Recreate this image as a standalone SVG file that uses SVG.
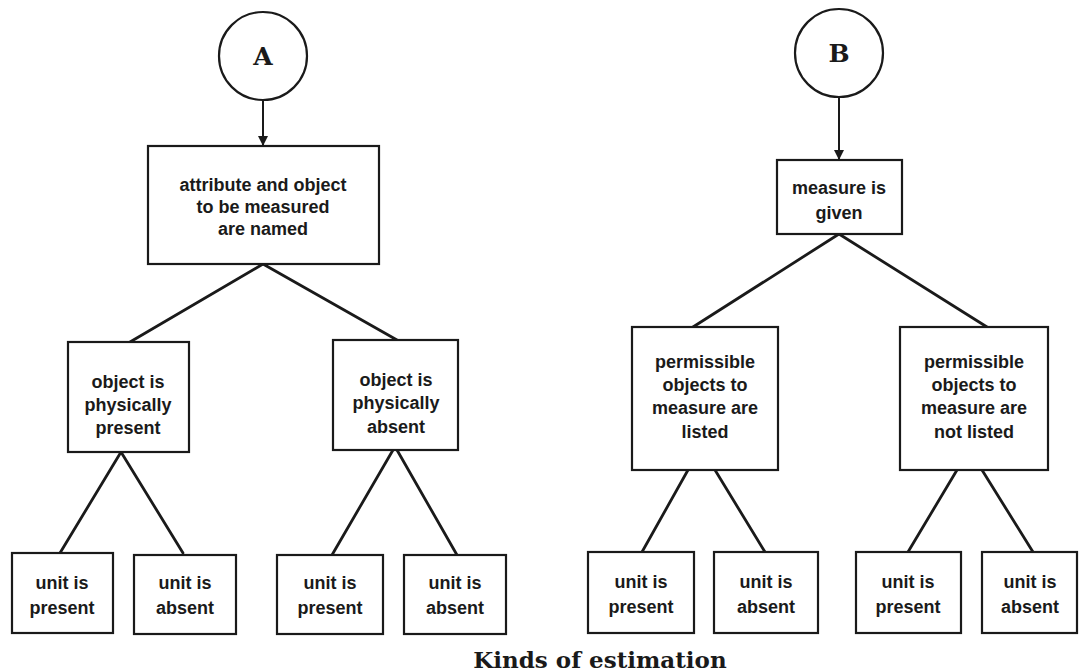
<svg xmlns="http://www.w3.org/2000/svg" width="1079" height="672" viewBox="0 0 1079 672">
<style>
  .box{fill:#fff;stroke:#1a1a1a;stroke-width:2.2}
  .circ{fill:#fff;stroke:#1a1a1a;stroke-width:2.2}
  .t{font-family:"Liberation Sans",Arial,sans-serif;font-weight:bold;font-size:18px;fill:#1a1a1a;text-anchor:middle}
  .L{font-family:"DejaVu Serif","Liberation Serif",serif;font-weight:bold;font-size:25px;fill:#1a1a1a;text-anchor:middle}
  .cap{font-family:"DejaVu Serif","Liberation Serif",serif;font-weight:bold;font-size:23px;fill:#1a1a1a;text-anchor:middle}
  .ln{stroke:#1a1a1a;stroke-width:2.8;fill:none;stroke-linecap:round}
  .ar{stroke:#1a1a1a;stroke-width:2;fill:none}
</style>
<defs>
  <marker id="ah" viewBox="0 0 10 10" refX="10" refY="5" markerWidth="5" markerHeight="5" orient="auto" markerUnits="strokeWidth">
    <path d="M0,0 L10,5 L0,10 z" fill="#1a1a1a"/>
  </marker>
</defs>
<rect width="1079" height="672" fill="#fff"/>
<g id="connectors">
  <line class="ar" x1="263" y1="100" x2="263" y2="146" marker-end="url(#ah)"/>
  <line class="ar" x1="839" y1="97" x2="839" y2="160" marker-end="url(#ah)"/>
  <line class="ln" x1="263" y1="264" x2="130" y2="342"/>
  <line class="ln" x1="263" y1="264" x2="397" y2="340"/>
  <line class="ln" x1="121" y1="452" x2="60" y2="553"/>
  <line class="ln" x1="121" y1="452" x2="183" y2="553"/>
  <line class="ln" x1="393" y1="450" x2="332" y2="555"/>
  <line class="ln" x1="397" y1="450" x2="457" y2="555"/>
  <line class="ln" x1="839" y1="234" x2="693" y2="327"/>
  <line class="ln" x1="839" y1="234" x2="987" y2="327"/>
  <line class="ln" x1="688" y1="470" x2="642" y2="552"/>
  <line class="ln" x1="715" y1="470" x2="765" y2="552"/>
  <line class="ln" x1="957" y1="470" x2="908" y2="552"/>
  <line class="ln" x1="982" y1="470" x2="1033" y2="552"/>
</g>
<g id="circleA"><circle class="circ" cx="263" cy="56" r="44"/><text class="L" x="263" y="65">A</text></g>
<g id="circleB"><circle class="circ" cx="839" cy="53" r="44"/><text class="L" x="839" y="62">B</text></g>
<g id="n1"><rect class="box" x="148" y="146" width="231" height="118"/>
  <text class="t" x="263" y="191">attribute and object</text>
  <text class="t" x="263" y="213">to be measured</text>
  <text class="t" x="263" y="235">are named</text></g>
<g id="n2"><rect class="box" x="68" y="342" width="121" height="110"/>
  <text class="t" x="128" y="388">object is</text>
  <text class="t" x="128" y="411">physically</text>
  <text class="t" x="128" y="434">present</text></g>
<g id="n3"><rect class="box" x="333" y="340" width="125" height="110"/>
  <text class="t" x="396" y="386">object is</text>
  <text class="t" x="396" y="409">physically</text>
  <text class="t" x="396" y="433">absent</text></g>
<g id="u1"><rect class="box" x="12" y="553" width="101" height="80"/>
  <text class="t" x="62" y="589">unit is</text><text class="t" x="62" y="614">present</text></g>
<g id="u2"><rect class="box" x="134" y="555" width="102" height="79"/>
  <text class="t" x="185" y="589">unit is</text><text class="t" x="185" y="614">absent</text></g>
<g id="u3"><rect class="box" x="277" y="555" width="106" height="79"/>
  <text class="t" x="330" y="589">unit is</text><text class="t" x="330" y="614">present</text></g>
<g id="u4"><rect class="box" x="404" y="555" width="102" height="79"/>
  <text class="t" x="455" y="589">unit is</text><text class="t" x="455" y="614">absent</text></g>
<g id="m1"><rect class="box" x="777" y="160" width="125" height="74"/>
  <text class="t" x="839" y="194">measure is</text>
  <text class="t" x="839" y="219">given</text></g>
<g id="m2"><rect class="box" x="632" y="327" width="146" height="143"/>
  <text class="t" x="705" y="368">permissible</text>
  <text class="t" x="705" y="391">objects to</text>
  <text class="t" x="705" y="414">measure are</text>
  <text class="t" x="705" y="438">listed</text></g>
<g id="m3"><rect class="box" x="900" y="327" width="148" height="143"/>
  <text class="t" x="974" y="368">permissible</text>
  <text class="t" x="974" y="391">objects to</text>
  <text class="t" x="974" y="414">measure are</text>
  <text class="t" x="974" y="438">not listed</text></g>
<g id="v1"><rect class="box" x="588" y="552" width="106" height="81"/>
  <text class="t" x="641" y="588">unit is</text><text class="t" x="641" y="613">present</text></g>
<g id="v2"><rect class="box" x="714" y="552" width="104" height="81"/>
  <text class="t" x="766" y="588">unit is</text><text class="t" x="766" y="613">absent</text></g>
<g id="v3"><rect class="box" x="856" y="552" width="105" height="81"/>
  <text class="t" x="908" y="588">unit is</text><text class="t" x="908" y="613">present</text></g>
<g id="v4"><rect class="box" x="982" y="552" width="95" height="81"/>
  <text class="t" x="1030" y="588">unit is</text><text class="t" x="1030" y="613">absent</text></g>
<text class="cap" x="600" y="668">Kinds of estimation</text>
</svg>
